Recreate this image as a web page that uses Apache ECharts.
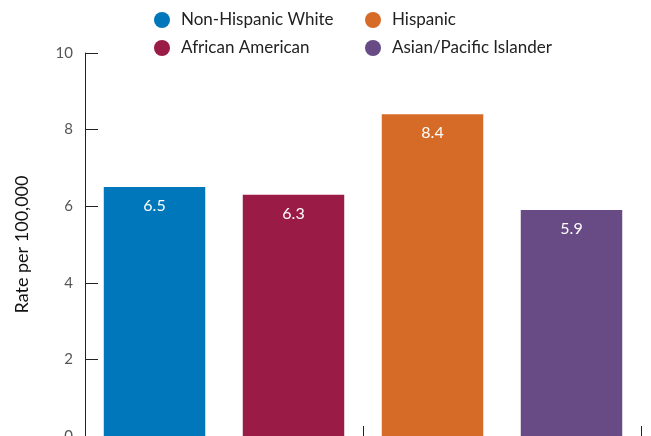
<!DOCTYPE html>
<html><head><meta charset="utf-8">
<script src="https://cdn.jsdelivr.net/npm/echarts@6/dist/echarts.min.js"></script>
<style>html,body{margin:0;padding:0;background:#fff}#c{width:651px;height:436px}</style>
</head><body><div id="c"></div>
<script>
const categories = ['Non-Hispanic White', 'African American', 'Hispanic', 'Asian/Pacific Islander'];
const values = [6.5, 6.3, 8.4, 5.9];
const colors = ['#0077BB', '#9B1B47', '#D56B27', '#684A85'];
const yTicks = [0, 2, 4, 6, 8, 10];

const FONT = 'Lato';
const series = categories.map((name, i) => ({
  name: name,
  type: 'bar',
  stack: 'all',
  barCategoryGap: '27%',
  itemStyle: { color: colors[i] },
  data: categories.map((c, j) => j === i ? values[i] : null),
  label: {
    show: true, position: 'insideTop', distance: 11, color: '#fff',
    fontFamily: FONT, fontSize: 16
  }
}));

const legendText = { fontFamily: FONT, fontSize: 17, color: '#222', lineHeight: 20, padding: [0, 0, 0, 6] };
const chart = echarts.init(document.getElementById('c'));
chart.setOption({
  animation: false,
  legend: [
    { orient: 'vertical', left: 154, top: 10, padding: 0, icon: 'circle', itemWidth: 16, itemHeight: 16, itemGap: 8,
      data: [categories[0], categories[1]], textStyle: legendText },
    { orient: 'vertical', left: 365, top: 10, padding: 0, icon: 'circle', itemWidth: 16, itemHeight: 16, itemGap: 8,
      data: [categories[2], categories[3]], textStyle: legendText }
  ],
  grid: { left: 85, right: 10, top: 53, bottom: 0, containLabel: false, outerBoundsMode: 'none' },
  xAxis: {
    type: 'category', data: categories,
    axisLine: { show: true, lineStyle: { color: '#ccc', width: 1 } },
    axisTick: { show: true, inside: true, length: 10, lineStyle: { color: '#222' } },
    axisLabel: { show: false }
  },
  yAxis: {
    type: 'value', min: yTicks[0], max: yTicks[yTicks.length - 1], interval: 2,
    name: 'Rate per 100,000', nameLocation: 'middle', nameGap: 54,
    nameTextStyle: { fontFamily: FONT, fontSize: 18, color: '#111' },
    axisLine: { show: true, lineStyle: { color: '#222' } },
    axisTick: { show: true, inside: true, length: 13, lineStyle: { color: '#222' } },
    axisLabel: { fontFamily: FONT, fontSize: 15, color: '#555', margin: 12 },
    splitLine: { show: false }
  },
  series: series
});
</script></body></html>
